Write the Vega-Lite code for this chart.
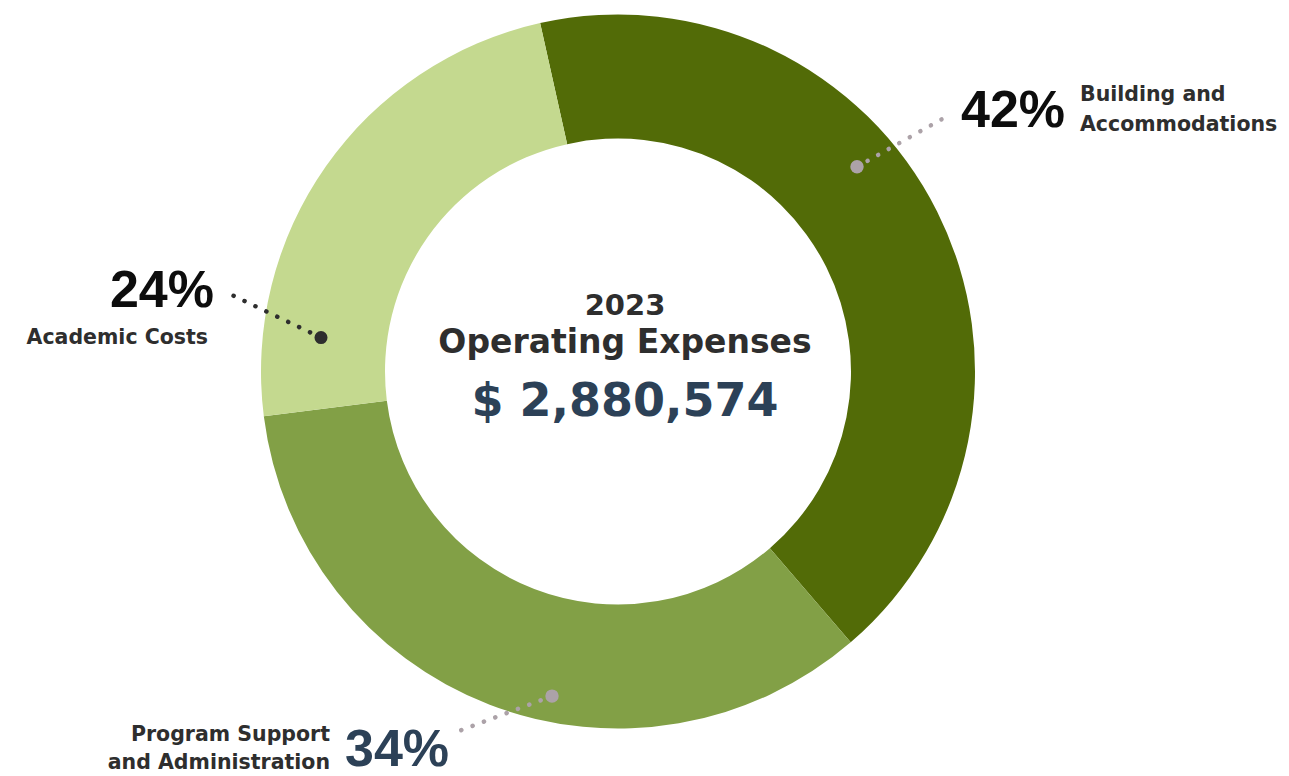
{
  "$schema": "https://vega.github.io/schema/vega-lite/v6.json",
  "width": 1289,
  "height": 776,
  "autosize": {"type": "fit", "contains": "padding"},
  "padding": 0,
  "background": "#ffffff",
  "config": {"view": {"stroke": null}, "font": "DejaVu Sans"},
  "datasets": {
    "slices": [
      {"category": "Building and Accommodations", "pct": 42.2, "rank": 1},
      {"category": "Program Support and Administration", "pct": 34.3, "rank": 2},
      {"category": "Academic Costs", "pct": 23.5, "rank": 3}
    ],
    "notes": [
      {"kind": "year", "label": "2023", "x": 625, "y": 315},
      {"kind": "title", "label": "Operating Expenses", "x": 625, "y": 353},
      {"kind": "total", "label": "$ 2,880,574", "x": 625, "y": 417},
      {"kind": "pctL", "label": "42%", "x": 961, "y": 127},
      {"kind": "pctR", "label": "24%", "x": 214, "y": 307},
      {"kind": "pctNavy", "label": "34%", "x": 345, "y": 767},
      {"kind": "catL", "label": "Building and", "x": 1080, "y": 101},
      {"kind": "catL", "label": "Accommodations", "x": 1080, "y": 131},
      {"kind": "catR", "label": "Academic Costs", "x": 208, "y": 344},
      {"kind": "catR", "label": "Program Support", "x": 330, "y": 742},
      {"kind": "catR", "label": "and Administration", "x": 330, "y": 770}
    ],
    "leaders": [
      {"tone": "gray", "x": 857, "y": 167, "x2": 946, "y2": 117},
      {"tone": "dark", "x": 321, "y": 338, "x2": 229, "y2": 294},
      {"tone": "gray", "x": 552, "y": 697, "x2": 456, "y2": 733}
    ]
  },
  "layer": [
    {
      "data": {"name": "slices"},
      "mark": {"type": "arc", "radius": 357, "radius2": 233, "stroke": null},
      "encoding": {
        "x": {"datum": 618, "type": "quantitative", "scale": {"domain": [0, 1289], "nice": false, "zero": false}, "axis": null},
        "y": {"datum": 372, "type": "quantitative", "scale": {"domain": [0, 776], "nice": false, "zero": false, "reverse": true}, "axis": null},
        "theta": {"field": "pct", "type": "quantitative", "stack": true, "scale": {"range": [-0.2199, 6.0633]}},
        "order": {"field": "rank", "type": "quantitative"},
        "color": {
          "field": "category",
          "type": "nominal",
          "scale": {
            "domain": ["Building and Accommodations", "Program Support and Administration", "Academic Costs"],
            "range": ["#526b07", "#82a046", "#c4d98f"]
          },
          "legend": null
        }
      }
    },
    {
      "data": {"name": "leaders"},
      "transform": [{"filter": "datum.tone === 'gray'"}],
      "mark": {"type": "rule", "color": "#aca2a8", "strokeWidth": 4.5, "strokeCap": "round", "strokeDash": [0.1, 12]},
      "encoding": {
        "x": {"field": "x", "type": "quantitative"},
        "y": {"field": "y", "type": "quantitative"},
        "x2": {"field": "x2"},
        "y2": {"field": "y2"}
      }
    },
    {
      "data": {"name": "leaders"},
      "transform": [{"filter": "datum.tone === 'dark'"}],
      "mark": {"type": "rule", "color": "#2e2e2e", "strokeWidth": 4.5, "strokeCap": "round", "strokeDash": [0.1, 12]},
      "encoding": {
        "x": {"field": "x", "type": "quantitative"},
        "y": {"field": "y", "type": "quantitative"},
        "x2": {"field": "x2"},
        "y2": {"field": "y2"}
      }
    },
    {
      "data": {"name": "leaders"},
      "transform": [{"filter": "datum.tone === 'gray'"}],
      "mark": {"type": "point", "filled": true, "opacity": 1, "color": "#aca2a8", "size": 180},
      "encoding": {
        "x": {"field": "x", "type": "quantitative"},
        "y": {"field": "y", "type": "quantitative"}
      }
    },
    {
      "data": {"name": "leaders"},
      "transform": [{"filter": "datum.tone === 'dark'"}],
      "mark": {"type": "point", "filled": true, "opacity": 1, "color": "#2e2e2e", "size": 170},
      "encoding": {
        "x": {"field": "x", "type": "quantitative"},
        "y": {"field": "y", "type": "quantitative"}
      }
    },
    {
      "data": {"name": "notes"},
      "transform": [{"filter": "datum.kind === 'year'"}],
      "mark": {"type": "text", "font": "DejaVu Sans", "fontSize": 29, "fontWeight": "bold", "color": "#2e2e2e", "align": "center", "baseline": "alphabetic"},
      "encoding": {
        "x": {"field": "x", "type": "quantitative"},
        "y": {"field": "y", "type": "quantitative"},
        "text": {"field": "label"}
      }
    },
    {
      "data": {"name": "notes"},
      "transform": [{"filter": "datum.kind === 'title'"}],
      "mark": {"type": "text", "font": "DejaVu Sans", "fontSize": 33, "fontWeight": "bold", "color": "#2e2e2e", "align": "center", "baseline": "alphabetic"},
      "encoding": {
        "x": {"field": "x", "type": "quantitative"},
        "y": {"field": "y", "type": "quantitative"},
        "text": {"field": "label"}
      }
    },
    {
      "data": {"name": "notes"},
      "transform": [{"filter": "datum.kind === 'total'"}],
      "mark": {"type": "text", "font": "DejaVu Sans", "fontSize": 46, "fontWeight": "bold", "color": "#2c4157", "align": "center", "baseline": "alphabetic"},
      "encoding": {
        "x": {"field": "x", "type": "quantitative"},
        "y": {"field": "y", "type": "quantitative"},
        "text": {"field": "label"}
      }
    },
    {
      "data": {"name": "notes"},
      "transform": [{"filter": "datum.kind === 'pctL'"}],
      "mark": {"type": "text", "font": "Liberation Sans", "fontSize": 52, "fontWeight": "bold", "color": "#0d0d0d", "align": "left", "baseline": "alphabetic"},
      "encoding": {
        "x": {"field": "x", "type": "quantitative"},
        "y": {"field": "y", "type": "quantitative"},
        "text": {"field": "label"}
      }
    },
    {
      "data": {"name": "notes"},
      "transform": [{"filter": "datum.kind === 'pctR'"}],
      "mark": {"type": "text", "font": "Liberation Sans", "fontSize": 52, "fontWeight": "bold", "color": "#0d0d0d", "align": "right", "baseline": "alphabetic"},
      "encoding": {
        "x": {"field": "x", "type": "quantitative"},
        "y": {"field": "y", "type": "quantitative"},
        "text": {"field": "label"}
      }
    },
    {
      "data": {"name": "notes"},
      "transform": [{"filter": "datum.kind === 'pctNavy'"}],
      "mark": {"type": "text", "font": "Liberation Sans", "fontSize": 52, "fontWeight": "bold", "color": "#2c4157", "align": "left", "baseline": "alphabetic"},
      "encoding": {
        "x": {"field": "x", "type": "quantitative"},
        "y": {"field": "y", "type": "quantitative"},
        "text": {"field": "label"}
      }
    },
    {
      "data": {"name": "notes"},
      "transform": [{"filter": "datum.kind === 'catL'"}],
      "mark": {"type": "text", "font": "DejaVu Sans", "fontSize": 20.5, "fontWeight": "bold", "color": "#2e2e2e", "align": "left", "baseline": "alphabetic"},
      "encoding": {
        "x": {"field": "x", "type": "quantitative"},
        "y": {"field": "y", "type": "quantitative"},
        "text": {"field": "label"}
      }
    },
    {
      "data": {"name": "notes"},
      "transform": [{"filter": "datum.kind === 'catR'"}],
      "mark": {"type": "text", "font": "DejaVu Sans", "fontSize": 20.5, "fontWeight": "bold", "color": "#2e2e2e", "align": "right", "baseline": "alphabetic"},
      "encoding": {
        "x": {"field": "x", "type": "quantitative"},
        "y": {"field": "y", "type": "quantitative"},
        "text": {"field": "label"}
      }
    }
  ]
}
